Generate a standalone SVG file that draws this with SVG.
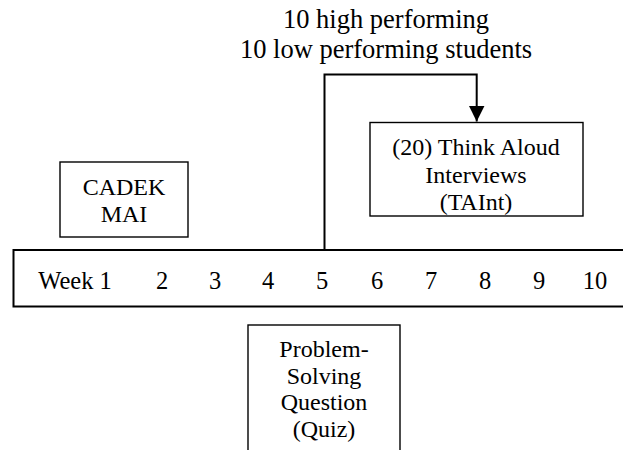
<svg xmlns="http://www.w3.org/2000/svg" width="623" height="450" viewBox="0 0 623 450">
<defs>
<style>
.box{fill:#fff;stroke:#000;stroke-width:1.4}
.conn{fill:none;stroke:#000;stroke-width:2}
</style>
<marker id="ah" markerWidth="17" markerHeight="16" refX="16" refY="8" orient="auto" markerUnits="userSpaceOnUse">
<path d="M0,0 L16,8 L0,16 Z" fill="#000"/>
</marker>
</defs>
<rect width="623" height="450" fill="#fff"/>
<g font-family="'Liberation Serif', 'DejaVu Serif', serif" font-size="24" text-anchor="middle" fill="#000">
<g id="header" font-size="26.5">
<text x="386" y="28">10 high performing</text>
<text x="386" y="58">10 low performing students</text>
</g>
<g id="timeline" font-size="24.5">
<rect x="13.5" y="250" width="620" height="56.5" fill="#fff" stroke="#000" stroke-width="2"/>
<text x="75" y="289">Week 1</text>
<text x="162" y="289">2</text>
<text x="215" y="289">3</text>
<text x="268" y="289">4</text>
<text x="322" y="289">5</text>
<text x="377" y="289">6</text>
<text x="431" y="289">7</text>
<text x="485" y="289">8</text>
<text x="539" y="289">9</text>
<text x="595" y="289">10</text>
</g>
<g id="cadek">
<rect class="box" x="60" y="162" width="128" height="75"/>
<text x="124" y="195">CADEK</text>
<text x="124" y="222">MAI</text>
</g>
<g id="taint">
<rect class="box" x="370" y="122.5" width="213" height="93.5"/>
<text x="476" y="155">(20) Think Aloud</text>
<text x="476" y="183">Interviews</text>
<text x="476" y="210">(TAInt)</text>
</g>
<g id="quiz">
<rect class="box" x="248" y="325" width="152" height="140"/>
<text x="324" y="357">Problem-</text>
<text x="324" y="384">Solving</text>
<text x="324" y="410">Question</text>
<text x="324" y="437">(Quiz)</text>
</g>
</g>
<g id="connectors">
<path class="conn" d="M324.5,250 V74.5 H476.7 V121.5" marker-end="url(#ah)"/>
</g>
</svg>
